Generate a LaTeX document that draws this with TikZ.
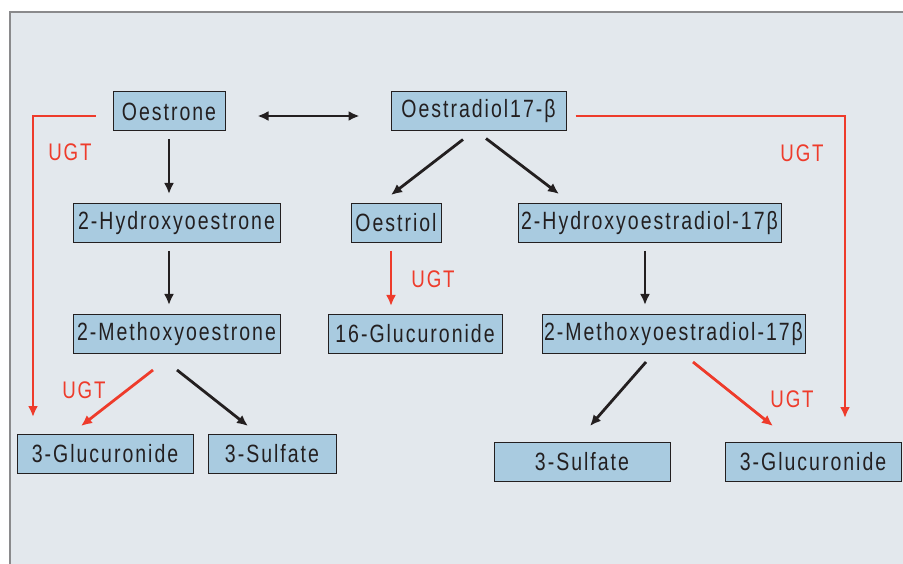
\documentclass[tikz,border=0pt]{standalone}
\usepackage{fontspec}
\setmainfont{Liberation Sans}[FakeStretch=0.78,LetterSpace=8]
\usetikzlibrary{arrows.meta,calc}
\definecolor{bg}{HTML}{E3E8ED}
\definecolor{boxfill}{HTML}{A9CBE0}
\definecolor{ugtred}{HTML}{EE3B2B}
\definecolor{ink}{HTML}{231F20}
\definecolor{frame}{HTML}{8A8A8C}
\begin{document}
\begin{tikzpicture}[x=1pt,y=-1pt,
  box/.style={draw=ink,line width=1pt,fill=boxfill,minimum height=39pt,inner sep=0pt,
    font=\fontsize{25}{29}\selectfont,text=ink},
  tip/.style={},
  arr/.style={draw=ink,line width=2.8pt,-{Latex[length=11pt,width=10pt]}},
  redarr/.style={draw=ugtred,line width=2.8pt,-{Latex[length=11pt,width=10pt]}},
  ugt/.style={text=ugtred,font=\fontsize{24}{28}\selectfont,inner sep=0pt}]
\useasboundingbox (0,0) rectangle (903,564);
\fill[white] (0,0) rectangle (903,564);
\fill[bg] (10,12) rectangle (903,564);
\draw[frame,line width=1.5pt] (10,564) -- (10,12) -- (903,12);

\node[box,minimum width=112pt] (oe1) at (169,111.5) {Oestrone};
\node[box,minimum width=175pt] (oe2) at (478.5,111.5) {Oestradiol17-β};
\node[box,minimum width=207pt] (hyd1) at (176.5,223) {2-Hydroxyoestrone};
\node[box,minimum width=90pt] (est) at (396,223) {Oestriol};
\node[box,minimum width=263pt] (hyd2) at (649.5,223) {2-Hydroxyoestradiol-17β};
\node[box,minimum width=207pt] (met1) at (176.5,334) {2-Methoxyoestrone};
\node[box,minimum width=174pt] (g16) at (415,334) {16-Glucuronide};
\node[box,minimum width=263pt] (met2) at (673.5,334) {2-Methoxyoestradiol-17β};
\node[box,minimum width=176pt] (gl1) at (105,454) {3-Glucuronide};
\node[box,minimum width=128pt] (su1) at (272,454) {3-Sulfate};
\node[box,minimum width=176pt] (su2) at (582,462) {3-Sulfate};
\node[box,minimum width=176pt] (gl2) at (813,462) {3-Glucuronide};

% black connectors
\draw[arr,{Latex[length=11pt,width=10pt]}-{Latex[length=11pt,width=10pt]}]
  ([shift={(32,4.5)}]oe1.east) -- ([shift={(-31,4.5)}]oe2.west);
\draw[arr] ([shift={(0,8)}]oe1.south) -- ([shift={(-7.5,-9)}]hyd1.north);
\draw[arr] ([shift={(-7.5,8)}]hyd1.south) -- ([shift={(-7.5,-9)}]met1.north);
\draw[arr] ([shift={(-15.5,8)}]oe2.south) -- ([shift={(-5,-8)}]est.north);
\draw[arr] ([shift={(7.5,7)}]oe2.south) -- ([shift={(-90.5,-9)}]hyd2.north);
\draw[arr] ([shift={(-4.5,8)}]hyd2.south) -- ([shift={(-28.5,-9)}]met2.north);
\draw[arr] ([shift={(0.5,16)}]met1.south) -- ([shift={(-24,-8)}]su1.north);
\draw[arr] ([shift={(-27.5,8)}]met2.south) -- ([shift={(8,-16)}]su2.north);

% red connectors
\draw[redarr] ([shift={(-5,8)}]est.south) -- ([shift={(-24,-8)}]g16.north);
\draw[redarr] ([shift={(-23.5,16)}]met1.south) -- ([shift={(-24,-8)}]gl1.north);
\draw[redarr] ([shift={(19.5,8)}]met2.south) -- ([shift={(-40,-16)}]gl2.north);
\draw[redarr] ([shift={(-17,4.5)}]oe1.west) -| ([shift={(-72,-17)}]gl1.north);
\draw[redarr] ([shift={(9,4.5)}]oe2.east) -| ([shift={(32,-24)}]gl2.north);

% UGT labels
\node[ugt] (u1) at (70,152) {UGT};
\node[ugt] (u2) at (802,153) {UGT};
\node[ugt] (u3) at (433,279) {UGT};
\node[ugt] (u4) at (84,390) {UGT};
\node[ugt] (u5) at (792,399) {UGT};
\end{tikzpicture}
\end{document}
